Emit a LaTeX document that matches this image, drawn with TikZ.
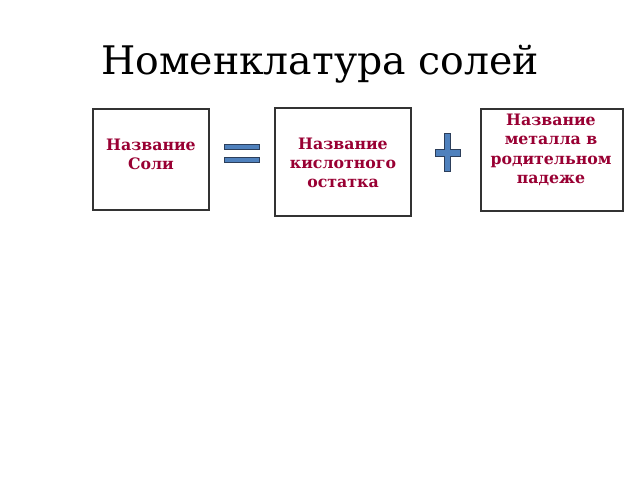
\documentclass[tikz,border=0pt]{standalone}
\usepackage{fontspec}
\setmainfont{DejaVu Serif}
\definecolor{salt}{RGB}{153,0,51}
\definecolor{signblue}{RGB}{79,129,189}
\definecolor{signline}{RGB}{44,62,90}
\begin{document}
\begin{tikzpicture}[x=0.025cm, y=-0.025cm,
    box/.style={draw=black!80, line width=0.9pt, inner sep=0pt},
    txt/.style={text=salt, font=\fontsize{11.2}{13.6}\selectfont\bfseries, align=center, inner sep=0pt},
    sign/.style={fill=signblue, draw=signline, line width=0.6pt}]
    \useasboundingbox (0,0) rectangle (640,480);
    \node (title) at (320,64) {\fontsize{28}{32}\selectfont Номенклатура солей};

    \node[box, minimum width=2.9cm, minimum height=2.525cm] (soli) at (151,159.5) {};
    \node[box, minimum width=3.4cm, minimum height=2.7cm] (ostatok) at (343,162) {};
    \node[box, minimum width=3.55cm, minimum height=2.55cm] (metall) at (552,160) {};

    \node[txt] (soliT) at (151,154) {Название\\Соли};
    \node[txt] (ostatokT) at (343,163) {Название\\кислотного\\остатка};
    \node[txt, anchor=north] (metallT) at (551,114) {Название\\металла в\\родительном\\падеже};

    % equals
    \filldraw[sign] (224,144) rectangle (259,149);
    \filldraw[sign] (224,157) rectangle (259,162);
    % plus
    \filldraw[sign] (444,133) -- (450,133) -- (450,149) -- (460,149) -- (460,156)
        -- (450,156) -- (450,171) -- (444,171) -- (444,156) -- (435,156)
        -- (435,149) -- (444,149) -- cycle;
\end{tikzpicture}
\end{document}
